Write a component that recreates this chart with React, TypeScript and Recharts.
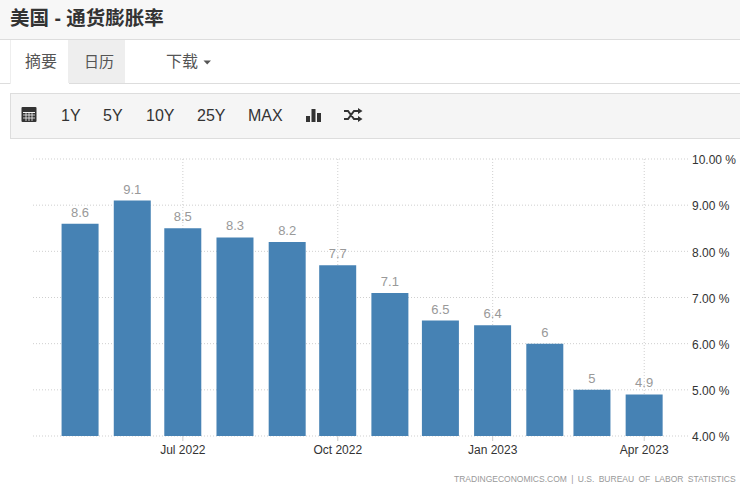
import { BarChart, Bar, XAxis, YAxis, CartesianGrid, LabelList } from "recharts"

const months = ["2022-05-01", "2022-06-01", "2022-07-01", "2022-08-01", "2022-09-01", "2022-10-01", "2022-11-01", "2022-12-01", "2023-01-01", "2023-02-01", "2023-03-01", "2023-04-01"]
const inflation = [8.6, 9.1, 8.5, 8.3, 8.2, 7.7, 7.1, 6.5, 6.4, 6, 5, 4.9]
const xTickDates = ["2022-07-01", "2022-10-01", "2023-01-01", "2023-04-01"]
const xTickLabels = ["Jul 2022", "Oct 2022", "Jan 2023", "Apr 2023"]
const xDomainDates = ["2022-04-03", "2023-04-27"]
const yTicks = [4, 5, 6, 7, 8, 9, 10]
const ranges = ["1Y", "5Y", "10Y", "25Y", "MAX"]
const rangeLefts = [61, 103, 146, 197, 248]

const time = (d: string) => new Date(d + "T00:00:00Z").getTime()
const data = months.map((m, i) => ({ date: time(m), value: inflation[i] }))
const xTicks = xTickDates.map(time)

const FONT = '"Liberation Sans", "Noto Sans CJK SC", sans-serif'

function Box({ style, children }: { style: React.CSSProperties; children?: React.ReactNode }) {
  return <div style={{ position: "absolute", whiteSpace: "nowrap", ...style }}>{children}</div>
}

export default function App() {
  return (
    <div style={{ position: "absolute", left: 0, top: 0, width: 740, height: 491, background: "#fff", overflow: "hidden", fontFamily: FONT, color: "#333" }}>
      {/* title bar */}
      <Box style={{ left: 0, top: 0, width: 740, height: 39, background: "#f7f7f7", borderBottom: "1px solid #ddd" }} />
      <Box style={{ left: 10, top: 6, fontSize: 19.5, fontWeight: 700, lineHeight: "24px", color: "#333" }}>美国 - 通货膨胀率</Box>

      {/* tabs */}
      <Box style={{ left: 0, top: 83, width: 740, height: 1, background: "#ddd" }} />
      <Box style={{ left: 10, top: 40, width: 58, height: 44, background: "#fff", borderLeft: "1px solid #eee" }} />
      <Box style={{ left: 68, top: 40, width: 57, height: 43, background: "#eee" }} />
      <Box style={{ left: 25, top: 52, fontSize: 16, lineHeight: "20px", color: "#555" }}>摘要</Box>
      <Box style={{ left: 84, top: 52, fontSize: 15, lineHeight: "20px", color: "#555" }}>日历</Box>
      <Box style={{ left: 166, top: 52, fontSize: 16, lineHeight: "20px", color: "#555" }}>下载</Box>
      <svg style={{ position: "absolute", left: 203, top: 60 }} width={9} height={6}>
        <path d="M0.5 0.5 L8 0.5 L4.2 4.5 Z" fill="#555" />
      </svg>

      {/* toolbar */}
      <Box style={{ left: 10, top: 93, width: 730, height: 46, background: "#f5f5f5", border: "1px solid #ddd", borderRight: "none", boxSizing: "border-box" }} />
      <svg style={{ position: "absolute", left: 21, top: 107 }} width={16} height={16}>
        <rect x={0.5} y={0} width={15} height={15} rx={1} fill="#333" />
        <rect x={2} y={5} width={12} height={1} fill="#f5f5f5" />
        <path d="M2 8h12M2 11h12M5 5v9M8 5v9M11 5v9" stroke="#f5f5f5" strokeWidth={0.8} />
      </svg>
      {ranges.map((r, i) => (
        <Box key={r} style={{ left: rangeLefts[i], top: 106, fontSize: 16, lineHeight: "20px", color: "#333" }}>{r}</Box>
      ))}
      <svg style={{ position: "absolute", left: 306, top: 108 }} width={16} height={15}>
        <rect x={0} y={8} width={4} height={6} fill="#333" />
        <rect x={5.5} y={1} width={4} height={13} fill="#333" />
        <rect x={11} y={5} width={4} height={9} fill="#333" />
      </svg>
      <svg style={{ position: "absolute", left: 344, top: 108 }} width={19} height={14}>
        <path d="M0 3 H4 L10 11 H14 M0 11 H4 L10 3 H14" fill="none" stroke="#333" strokeWidth={2} />
        <path d="M14 0 L18.5 3 L14 6 Z M14 8 L18.5 11 L14 14 Z" fill="#333" />
      </svg>

      {/* chart */}
      <div style={{ position: "absolute", left: 0, top: 0 }}>
        <BarChart width={740} height={491} data={data} margin={{ top: 159, right: 0, bottom: 0, left: 33 }}>
          <CartesianGrid stroke="#cfcfcf" strokeDasharray="1 2" syncWithTicks />
          <XAxis
            dataKey="date"
            type="number"
            scale="time"
            domain={xDomainDates.map(time)}
            ticks={xTicks}
            tickFormatter={(v: number) => xTickLabels[xTicks.indexOf(v)]}
            height={55}
            axisLine={false}
            tickLine={{ stroke: "#ccc" }}
            tickSize={5}
            tickMargin={4}
            interval={0}
            tick={{ fill: "#333", fontSize: 12, fontFamily: FONT }}
          />
          <YAxis
            orientation="right"
            domain={[4, 10]}
            ticks={yTicks}
            tickFormatter={(v: number) => v.toFixed(2) + "\u00a0%"}
            width={52}
            axisLine={false}
            tickLine={false}
            tickSize={0}
            tickMargin={4}
            tick={{ fill: "#333", fontSize: 12, fontFamily: FONT, dy: 1 }}
          />
          <Bar dataKey="value" fill="#4682b4" barSize={37} isAnimationActive={false}>
            <LabelList dataKey="value" position="top" offset={7} fill="#999" fontSize={13} fontFamily={FONT} />
          </Bar>
        </BarChart>
      </div>

      <Box style={{ left: 454, top: 473, fontSize: 8.5, lineHeight: "12px", color: "#999", letterSpacing: 0, wordSpacing: 2 }}>
        TRADINGECONOMICS.COM | U.S. BUREAU OF LABOR STATISTICS
      </Box>
    </div>
  )
}
